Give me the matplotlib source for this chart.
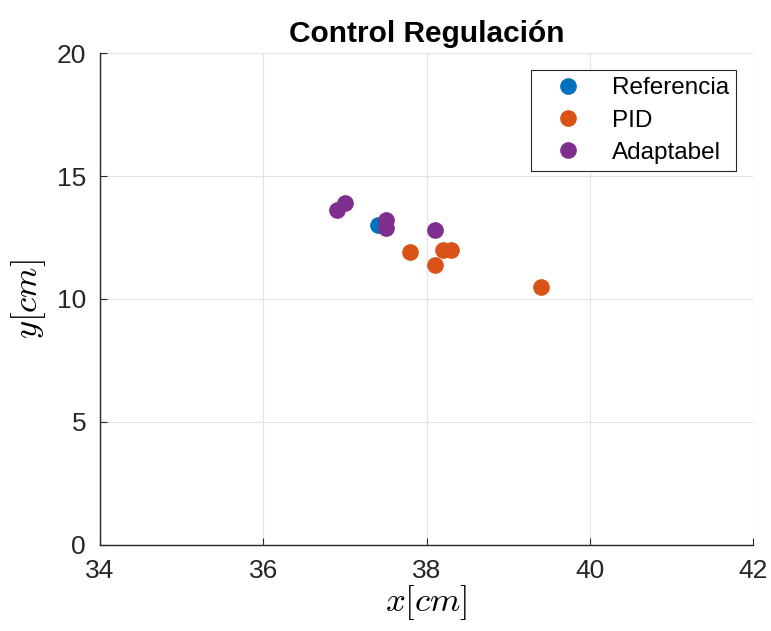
import numpy as np
import matplotlib
matplotlib.use('Agg')
import matplotlib.pyplot as plt

plt.rcParams['font.family'] = ['Liberation Sans', 'DejaVu Sans']
plt.rcParams['mathtext.fontset'] = 'cm'

# Data
ref_x = [37.4]
ref_y = [13.0]
pid_x = [37.8, 38.2, 38.3, 38.1, 39.4]
pid_y = [11.9, 12.0, 12.0, 11.4, 10.5]
ada_x = [36.9, 37.0, 37.5, 37.5, 38.1]
ada_y = [13.6, 13.9, 13.2, 12.9, 12.8]

fig = plt.figure(figsize=(7.71, 6.31), dpi=100)
ax = fig.add_axes([0.1297, 0.1363, 0.847, 0.7797])

ax.plot(ref_x, ref_y, 'o', color='#0072BD', markersize=11, label='Referencia')
ax.plot(pid_x, pid_y, 'o', color='#D95319', markersize=11, label='PID')
ax.plot(ada_x, ada_y, 'o', color='#7E2F8E', markersize=11, label='Adaptabel')

ax.set_xlim(34, 42)
ax.set_ylim(0, 20)
ax.set_xticks(np.arange(34, 43, 2))
ax.set_yticks(np.arange(0, 21, 5))
ax.grid(True, color='#e3e3e3', linewidth=0.8)
ax.set_axisbelow(True)

for s in ['top', 'right']:
    ax.spines[s].set_visible(False)
for s in ['left', 'bottom']:
    ax.spines[s].set_color('#262626')
    ax.spines[s].set_linewidth(1.0)
ax.tick_params(direction='in', length=5, labelsize=19, colors='#262626', pad=10)

ax.set_title('Control Regulación', fontsize=21.5, fontweight='bold', pad=8)
ax.set_xlabel('$x[cm]$', fontsize=25, labelpad=0)
ax.set_ylabel('$y[cm]$', fontsize=25, labelpad=6)

leg = ax.legend(loc='upper right', fontsize=17.5, fancybox=False, framealpha=1,
                edgecolor='#262626', handletextpad=0.6, borderpad=0.3,
                labelspacing=0.42, handlelength=2.4, borderaxespad=0.7)
leg.get_frame().set_linewidth(0.8)

fig.savefig('out.png', dpi=100)
